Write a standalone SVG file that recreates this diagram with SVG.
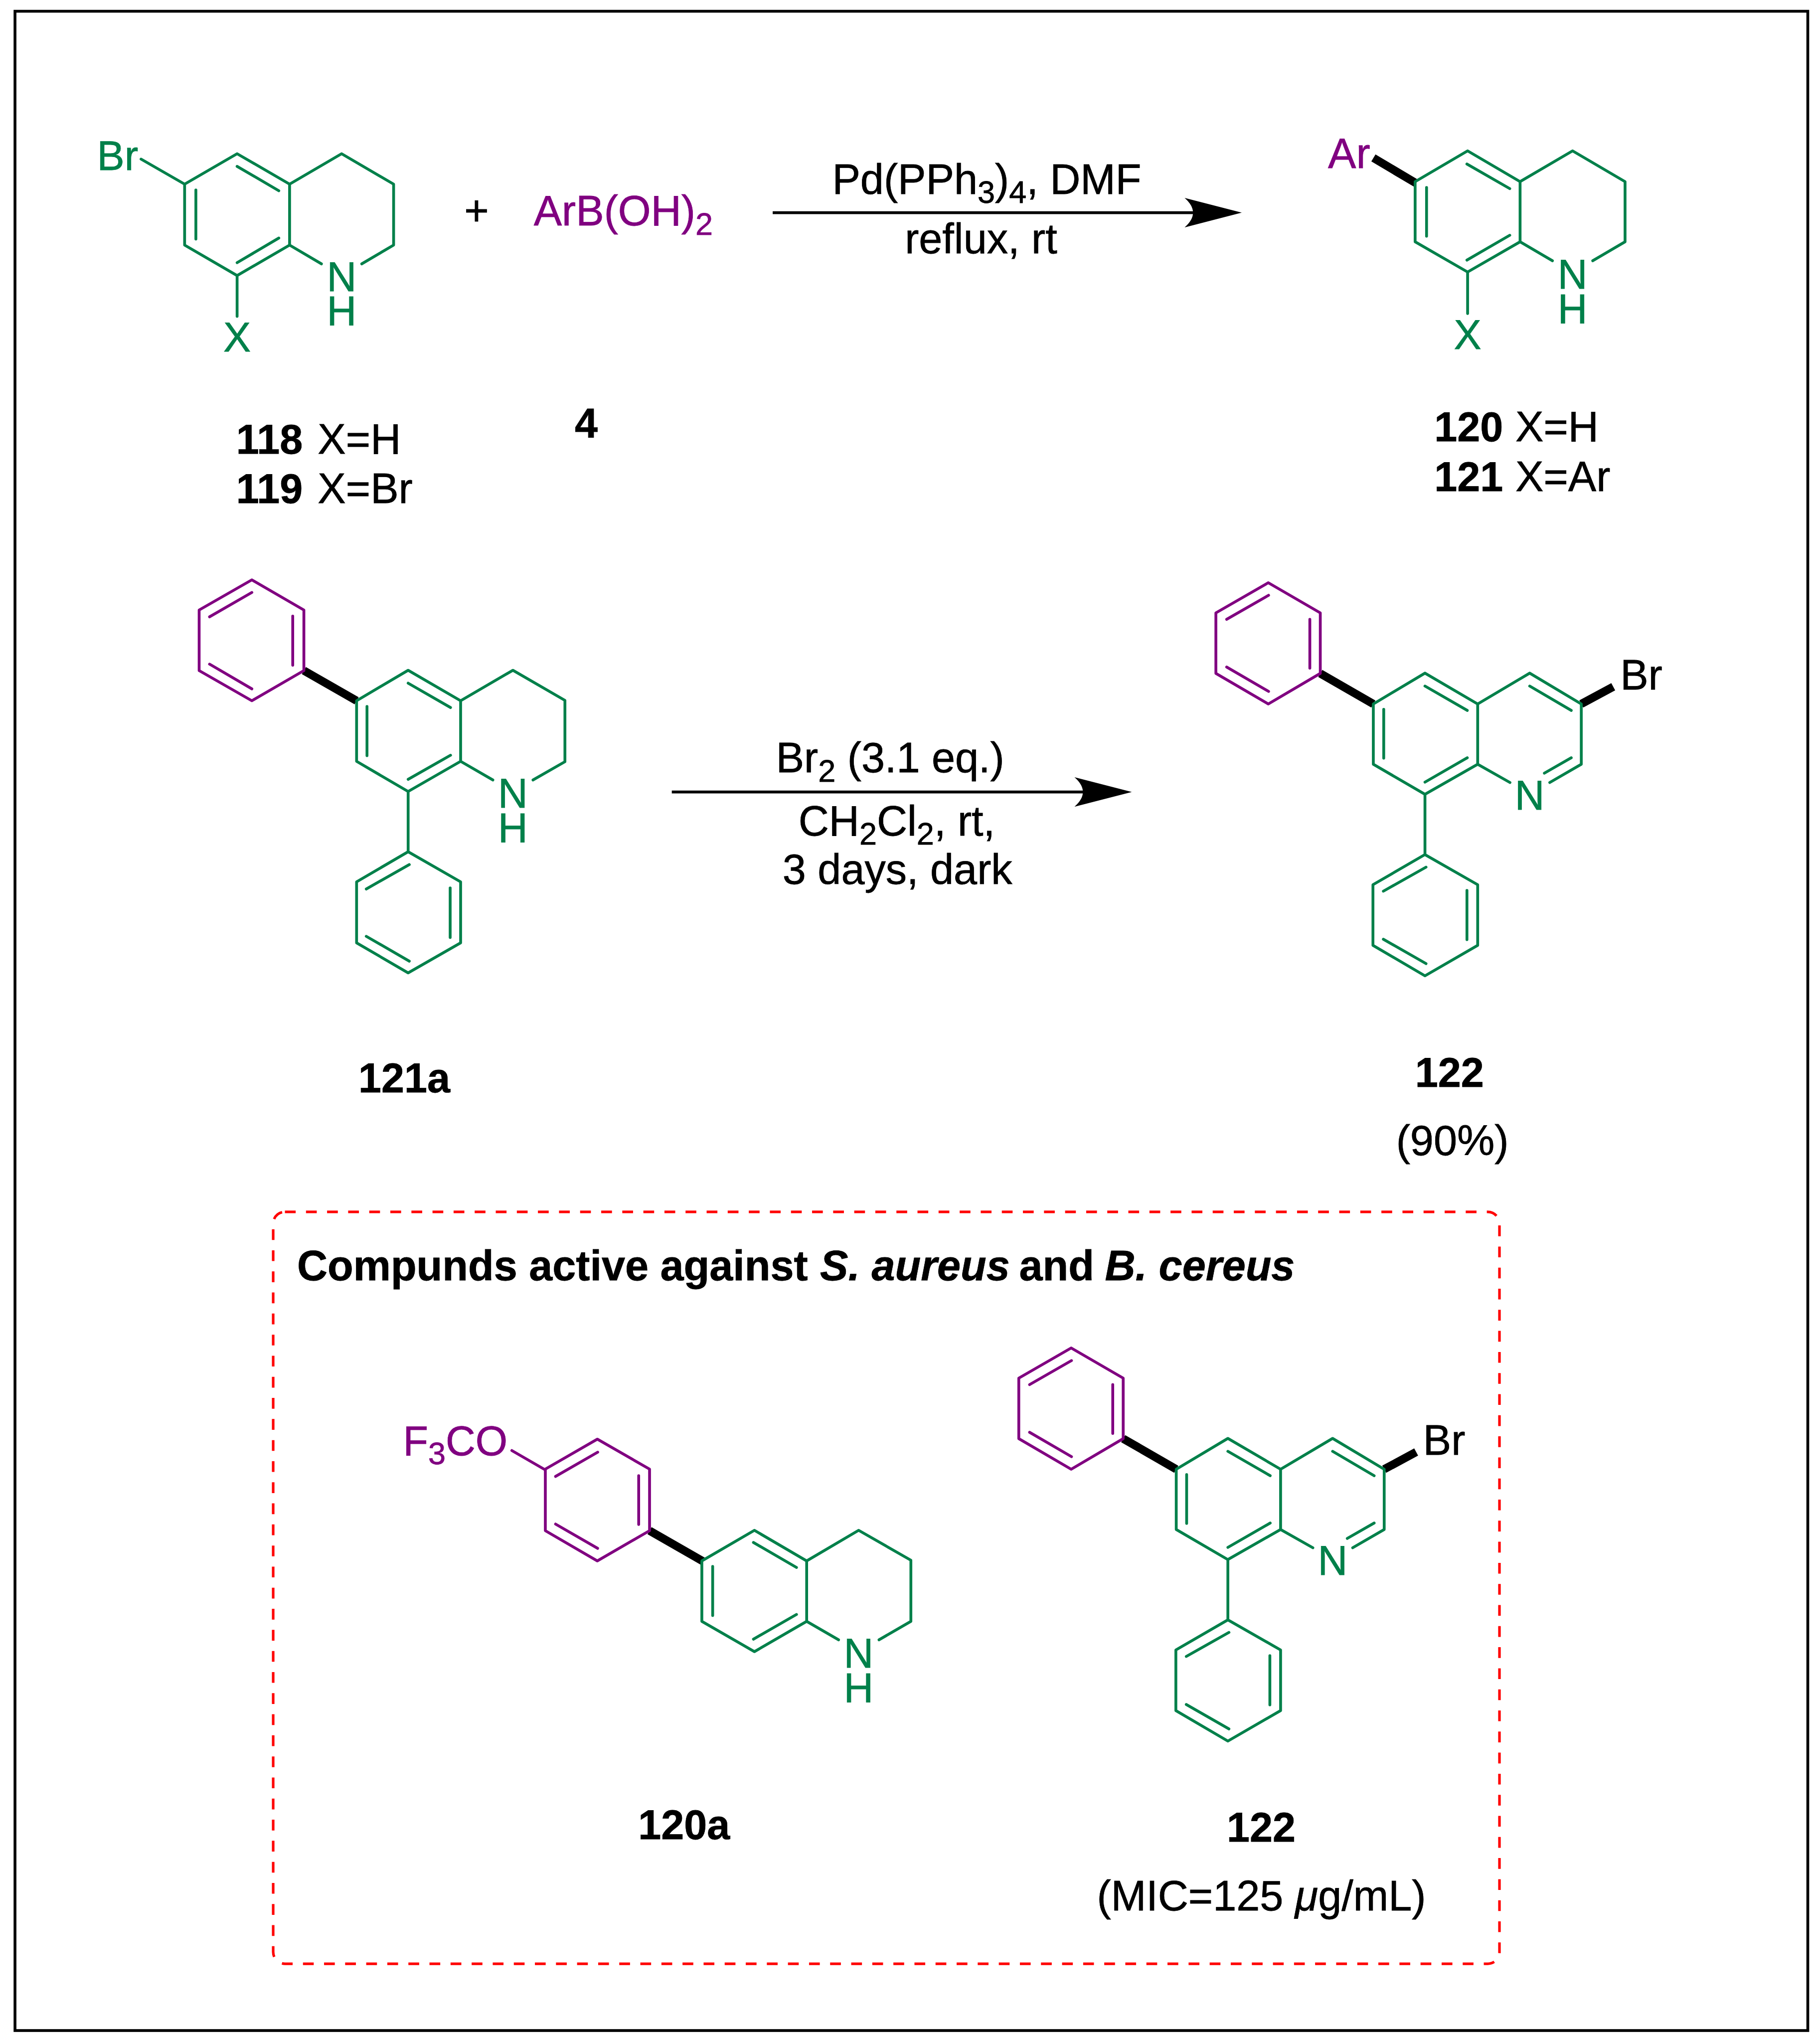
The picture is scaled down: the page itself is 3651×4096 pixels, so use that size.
<svg xmlns="http://www.w3.org/2000/svg" width="3651" height="4096" viewBox="0 0 3651 4096">
<style>
text{font-family:"Liberation Sans",Arial,sans-serif;font-size:90px;fill:#000;stroke:#000;stroke-width:.8}
.b{font-weight:bold}
.l{font-size:88px}
.i{font-style:italic}
.s{font-size:67px}
.m{text-anchor:middle}
.tg{fill:#00804a;stroke:#00804a;font-size:88px}
.tp{fill:#800080;stroke:#800080}
.g,.p{fill:none;stroke-width:6;stroke-linecap:round;stroke-linejoin:round}
.g{stroke:#00804a}
.p{stroke:#800080}
.k{fill:none;stroke:#000;stroke-width:17.5}
.a{fill:none;stroke:#000;stroke-width:6}
</style>
<defs>
<marker id="head" markerUnits="userSpaceOnUse" viewBox="0 0 122 63" markerWidth="122" markerHeight="63" refX="20" refY="31.5" orient="auto">
<path d="M122,31.5L0,0Q36,31.5 0,63Z" fill="#000"/>
</marker>
</defs>
<rect width="3651" height="4096" fill="#fff"/>
<g transform="scale(0.94)">
<rect id="frame" x="32" y="24" width="3826" height="4309" fill="none" stroke="#000" stroke-width="6"/>
<rect id="active-box" x="583" y="2586" width="2617" height="1604.5" rx="25" ry="25" fill="none" stroke="#f00" stroke-width="5.5" stroke-dasharray="23 22"/>

<g id="connectors">
<line class="a" x1="1649" y1="453.8" x2="2548" y2="453.8" marker-end="url(#head)"/>
<line class="a" x1="1433.7" y1="1690" x2="2313" y2="1690" marker-end="url(#head)"/>
</g>

<g id="mol118">
<path class="g" d="M394,393L506,328L618,393L618,523L506,588L394,523ZM618,393L729,328L840,393L840,523L772,563M618,523L686,563M394,393L301,339.5M506,588V675M506,355L595,407M418,405.5V510M506,560.5L595,508"/>
<text class="tg" x="207" y="363">Br</text>
<text class="tg m" x="729" y="621">N</text>
<text class="tg m" x="729" y="695">H</text>
<text class="tg m" x="506" y="750">X</text>
</g>
<g id="label118"><text x="504" y="968.5"><tspan class="b l">118</tspan><tspan x="678">X=H</tspan></text></g>
<g id="label119"><text x="504" y="1073"><tspan class="b l">119</tspan><tspan x="678">X=Br</tspan></text></g>

<g id="plus"><text class="m" x="1017" y="481">+</text></g>
<g id="reagent4"><text class="tp" x="1139" y="481">ArB(OH)<tspan class="s" y="501">2</tspan></text></g>
<g id="label4"><text class="b l m" x="1251" y="933.6">4</text></g>

<g id="conditions1">
<text x="1776" y="414">Pd(PPh<tspan class="s" y="432.6">3</tspan><tspan y="414">)</tspan><tspan class="s" y="432.6">4</tspan><tspan y="414">, DMF</tspan></text>
<text x="1931" y="540">reflux, rt</text>
</g>

<g id="mol120">
<line class="k" x1="2931" y1="337" x2="3022" y2="391"/>
<path class="g" d="M3020,387.6L3132,322L3244,387.6V516L3132,580.5L3020,516ZM3244,387.6L3356,322L3468,387.6V516L3399,556.4M3244,516L3313,556.4M3132,580.5V669M3130.5,350L3222,402.5M3044.4,400V504M3130.5,555L3222,502"/>
<text class="tp" x="2834" y="358">Ar</text>
<text class="tg m" x="3356" y="615.5">N</text>
<text class="tg m" x="3356" y="690.7">H</text>
<text class="tg m" x="3132" y="744.7">X</text>
</g>
<g id="label120"><text x="3061" y="942"><tspan class="b l">120</tspan><tspan x="3234">X=H</tspan></text></g>
<g id="label121"><text x="3061" y="1048"><tspan class="b l">121</tspan><tspan x="3234">X=Ar</tspan></text></g>

<g id="mol121a">
<line class="k" x1="648.5" y1="1431" x2="761" y2="1495.3"/>
<path class="p" d="M537.5,1237.4L648.5,1301.7V1431L537.5,1495.3L425,1431V1301.7ZM447.2,1316.2L537.5,1264.2M624.7,1314.7V1419.5M447.2,1417.2L537.5,1470"/>
<path class="g" d="M761,1495.3L871,1430.3L983,1495.3V1624.6L871,1689L761,1624.6ZM983,1495.3L1094.6,1430.3L1205.6,1494.5V1625.4L1137.5,1664.4M983,1624.6L1051.8,1664.4M871,1457.8L961.5,1509.8M783.2,1507.5V1612.4M871,1663L961.5,1611.6M871,1689V1817.5M871,1817.5L983,1881.8V2012L871,2076L761,2012V1881.8ZM781.6,1897L873.5,1845M960.7,1894.8V2000.4M781.6,1998L873.5,2051"/>
<text class="tg m" x="1094.6" y="1723.4">N</text>
<text class="tg m" x="1094.6" y="1798.4">H</text>
</g>
<g id="label121a"><text class="b l" x="765" y="2331">121a</text></g>

<g id="conditions2">
<text x="1656" y="1648">Br<tspan class="s" y="1668">2</tspan><tspan y="1648"> (3.1 eq.)</tspan></text>
<text x="1704" y="1783.4">CH<tspan class="s" y="1802.4">2</tspan><tspan y="1783.4">Cl</tspan><tspan class="s" y="1802.4">2</tspan><tspan y="1783.4">, rt,</tspan></text>
<text x="1670" y="1885.8">3 days, dark</text>
</g>

<g id="mol122-top" transform="translate(420.6,-1633)">
<line class="k" x1="2397" y1="3070" x2="2510.2" y2="3135.2"/>
<line class="k" x1="2954" y1="3135.2" x2="3022.2" y2="3098.5"/>
<path class="p" d="M2286,2876.5L2397,2940.8V3070L2286,3135.2L2174.2,3070V2940.8ZM2197.2,2954.6L2286.7,2903.3M2374.7,2954.6V3058.7M2197.2,3056.4L2286.7,3108.4"/>
<path class="g" d="M2510.2,3135.2L2620.4,3069.4L2732.9,3135.2V3263.8L2620.4,3328L2510.2,3263.8ZM2732.9,3135.2L2843.9,3069.4L2954,3135.2V3263.8L2886.7,3302.8M2732.9,3263.8L2801.8,3302.8M2620.4,3097L2710.7,3149M2532.4,3146.7V3250.8M2620.4,3302L2710.7,3250M2843.9,3097L2932.6,3149M2875.2,3282.9L2932.6,3250M2620.4,3328V3456.6M2620.4,3456.6L2732.9,3520.9V3650.3L2620.4,3715.3L2509.4,3650.3V3520.9ZM2531.6,3534.7L2622.7,3483.4M2710,3533V3638M2531.6,3637.2L2622.7,3689.3"/>
<text class="tg m" x="2843.9" y="3361">N</text>
<text x="3037" y="3103.8">Br</text>
</g>
<g id="label122-top">
<text class="b l" x="3020" y="2319.5">122</text>
<text class="m" x="3099.5" y="2464.5">(90%)</text>
</g>

<g id="box-title">
<text class="b" x="634" y="2732">Compunds active against<tspan class="i" x="1750">S. aureus</tspan><tspan x="2175">and</tspan><tspan class="i" x="2358">B. cereus</tspan></text>
</g>

<g id="mol120a">
<line class="k" x1="1386.2" y1="3266.3" x2="1499.9" y2="3331.5"/>
<path class="p" d="M1274.8,3071L1386.2,3135V3266.3L1274.7,3330.8L1163.8,3266.3V3135ZM1185.6,3150.5L1275.6,3098.8M1363,3149V3253M1185.6,3252.2L1275.4,3304M1092.3,3095.3L1163.7,3136.6"/>
<path class="g" d="M1497.8,3330.8L1610,3265.6L1721.5,3330.8V3459.9L1610,3524.4L1497.8,3459.9ZM1721.5,3330.8L1832.4,3265.6L1943.9,3329.4V3459.9L1875.9,3499.2M1721.5,3459.9L1789.6,3499.2M1607.9,3291.5L1699.8,3344.8M1520.9,3342.7V3447.3M1607.9,3497.8L1699.8,3445.1"/>
<text class="tp" x="860" y="3105.8" style="font-size:88px">F<tspan class="s" y="3124.7">3</tspan><tspan y="3105.8">CO</tspan></text>
<text class="tg m" x="1832.4" y="3558">N</text>
<text class="tg m" x="1832.4" y="3632.5">H</text>
</g>
<g id="label120a"><text class="b l" x="1362" y="3924.3">120a</text></g>

<g id="mol122-box">
<line class="k" x1="2397" y1="3070" x2="2510.2" y2="3135.2"/>
<line class="k" x1="2954" y1="3135.2" x2="3022.2" y2="3098.5"/>
<path class="p" d="M2286,2876.5L2397,2940.8V3070L2286,3135.2L2174.2,3070V2940.8ZM2197.2,2954.6L2286.7,2903.3M2374.7,2954.6V3058.7M2197.2,3056.4L2286.7,3108.4"/>
<path class="g" d="M2510.2,3135.2L2620.4,3069.4L2732.9,3135.2V3263.8L2620.4,3328L2510.2,3263.8ZM2732.9,3135.2L2843.9,3069.4L2954,3135.2V3263.8L2886.7,3302.8M2732.9,3263.8L2801.8,3302.8M2620.4,3097L2710.7,3149M2532.4,3146.7V3250.8M2620.4,3302L2710.7,3250M2843.9,3097L2932.6,3149M2875.2,3282.9L2932.6,3250M2620.4,3328V3456.6M2620.4,3456.6L2732.9,3520.9V3650.3L2620.4,3715.3L2509.4,3650.3V3520.9ZM2531.6,3534.7L2622.7,3483.4M2710,3533V3638M2531.6,3637.2L2622.7,3689.3"/>
<text class="tg m" x="2843.9" y="3361">N</text>
<text x="3037" y="3103.8">Br</text>
</g>
<g id="label122-box">
<text class="b l" x="2618" y="3929.6">122</text>
<text class="m" x="2692" y="4077">(MIC=125 <tspan class="i">μ</tspan>g/mL)</text>
</g>
</g>
</svg>
